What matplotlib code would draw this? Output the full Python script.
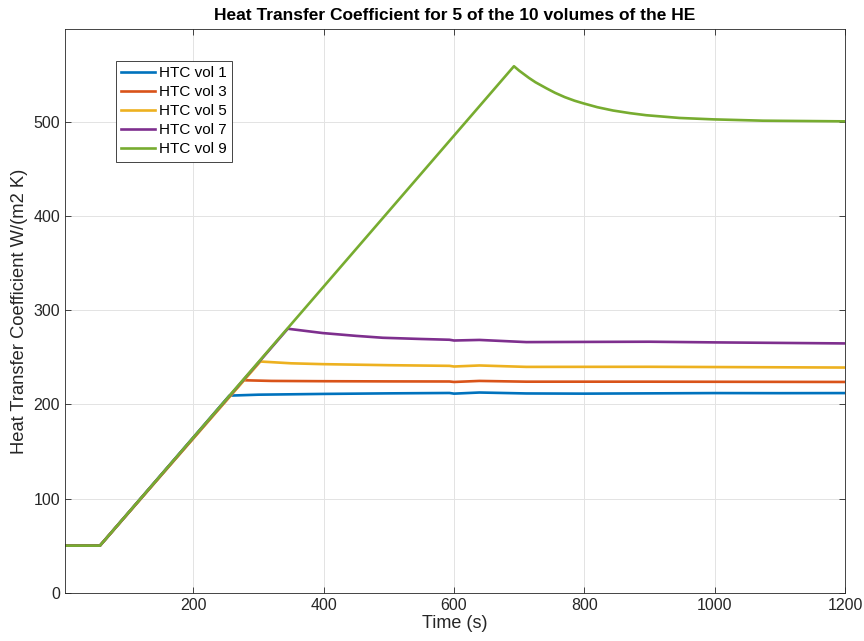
import matplotlib.pyplot as plt

plt.rcParams['font.family'] = ['Liberation Sans', 'DejaVu Sans']

# values (time in s, HTC in W/(m2 K))
t_vol1 = [3, 56.7, 255.3, 300, 398.6, 500, 593, 600, 639, 711, 800, 900, 1000, 1100, 1200]
h_vol1 = [50, 50, 209.2, 210.2, 211.0, 211.6, 212.0, 211.3, 212.5, 211.5, 211.3, 211.6, 211.9, 211.8, 211.9]

t_vol3 = [3, 56.7, 277.3, 320, 400, 500, 593, 600, 639, 711, 900, 1200]
h_vol3 = [50, 50, 225.5, 224.8, 224.5, 224.3, 224.2, 223.7, 224.8, 224.0, 224.0, 223.7]

t_vol5 = [3, 56.7, 302.9, 350, 398.6, 500, 593, 600, 639, 711, 900, 1200]
h_vol5 = [50, 50, 245.4, 243.5, 242.6, 241.5, 240.8, 240.1, 241.2, 239.7, 239.8, 239.0]

t_vol7 = [3, 56.7, 344.9, 398.6, 450, 490.8, 550, 593, 600, 639, 711, 800, 900, 1000, 1200]
h_vol7 = [50, 50, 280.2, 275.6, 272.6, 270.6, 269.3, 268.5, 267.7, 268.3, 266.0, 266.2, 266.4, 265.7, 264.6]

t_vol9 = [3, 56.7, 692, 700, 715, 725, 742, 755, 770, 785, 798, 820, 844, 870, 895, 946, 998, 1074, 1200]
h_vol9 = [50, 50, 558.8, 554.1, 546.4, 541.8, 535.3, 530.6, 526.0, 522.2, 519.5, 515.3, 511.8, 509.0,
          506.8, 503.9, 502.4, 501.0, 500.3]

labels = ['HTC vol 1', 'HTC vol 3', 'HTC vol 5', 'HTC vol 7', 'HTC vol 9']
colors = ['#0072BD', '#D95319', '#EDB120', '#7E2F8E', '#77AC30']

fig = plt.figure(figsize=(8.64, 6.41), dpi=100)
ax = fig.add_axes([0.0752, 0.0753, 0.9028, 0.879])

series = [(t_vol1, h_vol1), (t_vol3, h_vol3), (t_vol5, h_vol5), (t_vol7, h_vol7), (t_vol9, h_vol9)]
for (t, h), lab, c in zip(series, labels, colors):
    ax.plot(t, h, color=c, lw=1.9, label=lab)

ax.set_xlim(3, 1200)
ax.set_ylim(0, 598)
ax.set_xticks([200, 400, 600, 800, 1000, 1200])
ax.set_yticks([0, 100, 200, 300, 400, 500])
ax.grid(True, color='#e3e3e3', lw=0.7)
ax.set_axisbelow(True)
ax.tick_params(direction='in', length=4, width=0.6, color='#262626', labelcolor='#262626',
               labelsize=11.5, top=True, right=True)
for s in ax.spines.values():
    s.set_color('#262626')
    s.set_linewidth(0.6)

ax.set_title('Heat Transfer Coefficient for 5 of the 10 volumes of the HE',
             fontsize=12.5, fontweight='bold', pad=7)
ax.set_xlabel('Time (s)', fontsize=13, color='#262626', labelpad=2)
ax.set_ylabel('Heat Transfer Coefficient W/(m2 K)', fontsize=13.2, color='#262626', labelpad=4)

leg = ax.legend(loc='upper left', bbox_to_anchor=(0.065, 0.944), borderaxespad=0,
                fontsize=11, fancybox=False, framealpha=1, edgecolor='#262626',
                handlelength=2.2, labelspacing=0.33, handletextpad=0.3, borderpad=0.35)
leg.get_frame().set_linewidth(0.6)

plt.savefig('out.png', dpi=100)
plt.close()
